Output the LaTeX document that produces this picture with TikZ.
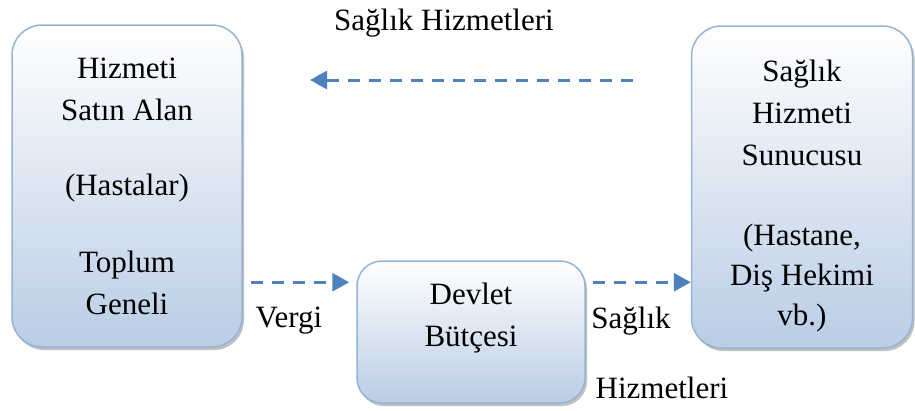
\documentclass[tikz,border=0pt]{standalone}
\usepackage{fontspec}
\setmainfont{Liberation Serif}
\usetikzlibrary{positioning,arrows.meta,shadows}

\definecolor{kenar}{HTML}{95B3D7}
\definecolor{dolgu}{HTML}{B9CDE5}
\definecolor{ok}{HTML}{4F81BD}

\begin{document}
\begin{tikzpicture}[
    x=1pt, y=-1pt,
    font=\fontsize{31}{42}\selectfont,
    kutu/.style={rectangle, rounded corners=30pt, draw=kenar, line width=1.5pt,
        top color=white, bottom color=dolgu, align=center,
        drop shadow={shadow xshift=2pt, shadow yshift=-3pt, fill=black!50, opacity=0.5}}, % kutular
    akis/.style={-{Triangle[length=17pt,width=18pt]}, draw=ok, line width=3pt,
        dash pattern=on 12pt off 9pt}, % kesikli oklar
    etiket/.style={anchor=base} % ok yazilari
    ]
    \useasboundingbox (0,0) rectangle (915,410);

    % Kutular
    \node[kutu, minimum width=230pt, minimum height=322pt] (hasta) at (127,186)
        {Hizmeti\\Satın Alan\\[33pt](Hastalar)\\[35pt]Toplum\\Geneli};
    \node[kutu, minimum width=221pt, minimum height=322pt] (sunucu) at (802,187)
        {\strut\\[-32pt]Sağlık\\Hizmeti\\Sunucusu\\[38pt](Hastane,\\[-2pt]Diş Hekimi\\[-2pt]vb.)};
    \node[kutu, rounded corners=25pt, minimum width=228pt, minimum height=142pt] (devlet) at (471,332)
        {Devlet\\Bütçesi\\[-8pt]\mbox{}};

    % Ok uclari
    \coordinate (ustsag) at (633,80);
    \coordinate (ustsol) at (310,80);
    \coordinate (vergiy) at ([yshift=-22pt]devlet.north west);

    % Oklar
    \draw[akis] (ustsag) -- (ustsol);
    \draw[akis, shorten <=8pt, shorten >=7pt] (hasta.east |- vergiy) -- (vergiy);
    \draw[akis, shorten <=7pt] (devlet.east |- vergiy) -- (sunucu.west |- vergiy);

    % Yazilar
    \node[etiket] (ust) at (444,30) {Sağlık Hizmetleri};
    \node[etiket] (vergi) at (289,327) {Vergi};
    \node[etiket] (saglik) at (631,328) {Sağlık};
    \node[etiket] (hizmet) at (662,398) {Hizmetleri};

\end{tikzpicture}
\end{document}
